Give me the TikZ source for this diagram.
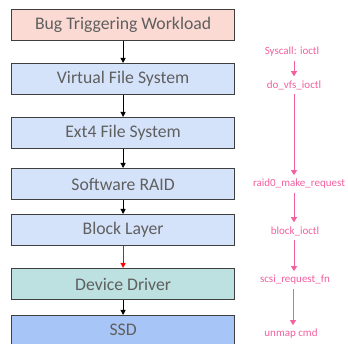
\documentclass[tikz,border=0pt]{standalone}
\usepackage{fontspec}
\setmainfont{Carlito}
\usetikzlibrary{arrows.meta}
\definecolor{txtgray}{HTML}{5F5F5F}
\definecolor{edge}{HTML}{3F3F3F}
\definecolor{peach}{HTML}{FBDAD4}
\definecolor{paleblue}{HTML}{D5E3FA}
\definecolor{teal}{HTML}{BDE0E0}
\definecolor{ssdblue}{HTML}{A8C5F7}
\definecolor{pink}{HTML}{F2609F}
\tikzset{
  layer/.style={draw=edge, line width=1.2pt, minimum width=223pt, minimum height=31pt,
    inner sep=0pt, font=\fontsize{17.7}{20}\selectfont, text=txtgray},
  flow/.style={-{Triangle[length=5pt,width=5pt]}, line width=0.9pt, black},
  call/.style={font=\fontsize{11}{13}\selectfont, text=pink, inner sep=1pt},
  callflow/.style={-{Triangle[length=5pt,width=6pt]}, line width=0.9pt, pink,
    shorten <=3pt, shorten >=3pt},
}
\begin{document}
\begin{tikzpicture}[x=1pt, y=-1pt]
\useasboundingbox (0,0) rectangle (348,344);
\fill[white] (0,0) rectangle (348,344);
% software stack
\node[layer, fill=peach,     anchor=north west] (bug)  at (11,9)   {Bug Triggering Workload};
\node[layer, fill=paleblue,  anchor=north west] (vfs)  at (11,63)  {Virtual File System};
\node[layer, fill=paleblue,  anchor=north west] (ext4) at (11,117) {Ext4 File System};
\node[layer, fill=paleblue,  anchor=north west] (raid) at (11,168) {Software RAID};
\node[layer, fill=paleblue,  anchor=north west] (blk)  at (11,214) {Block Layer};
\node[layer, fill=teal,      anchor=north west] (drv)  at (11,268) {Device Driver};
\node[layer, fill=ssdblue,   anchor=north west, minimum height=40pt, text depth=12pt] (ssd) at (11,315) {SSD};
\draw[flow] (bug.south) -- (vfs.north);
\draw[flow] (vfs.south) -- (ext4.north);
\draw[flow] (ext4.south) -- (raid.north);
\draw[flow] (raid.south) -- (blk.north);
\draw[flow, red] (blk.south) -- (drv.north);
\draw[flow] (drv.south) -- (ssd.north);
% call path
\node[call] (sys)   at (292,52)  {Syscall: ioctl};
\node[call] (dovfs) at (294,85)  {do\_vfs\_ioctl};
\node[call] (r0)    at (299,184) {raid0\_make\_request};
\node[call] (bio)   at (295,231) {block\_ioctl};
\node[call] (scsi)  at (295,280) {scsi\_request\_fn};
\node[call] (unmap) at (291,334) {unmap cmd};
\coordinate (lane) at (294,0);
\coordinate (lane2) at (293,0);
\draw[callflow] (sys.south -| lane)   -- (dovfs.north -| lane);
\draw[callflow] (dovfs.south -| lane) -- (r0.north -| lane);
\draw[callflow] (r0.south -| lane)    -- (bio.north -| lane);
\draw[callflow] (bio.south -| lane)   -- (scsi.north -| lane);
\draw[callflow] (scsi.south -| lane2) -- (unmap.north -| lane2);
\end{tikzpicture}
\end{document}
